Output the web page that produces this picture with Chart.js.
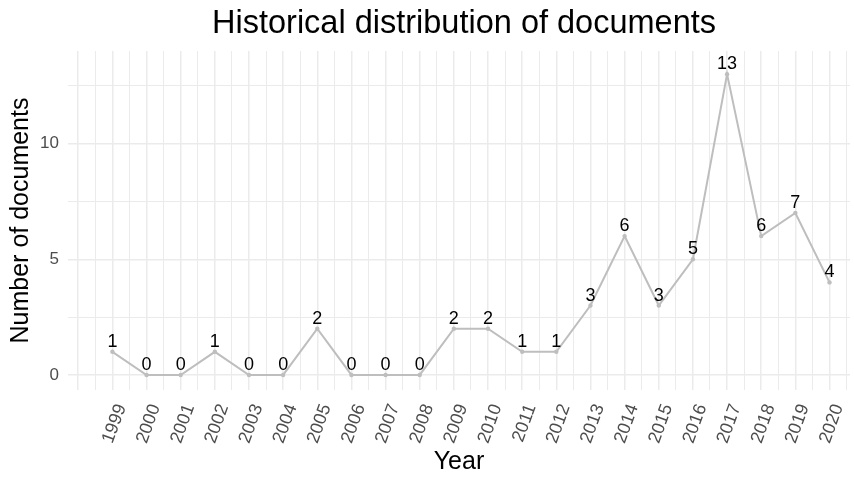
<!DOCTYPE html>
<html>
<head>
<meta charset="utf-8">
<script src="https://cdn.jsdelivr.net/npm/chart.js@4.4.0/dist/chart.umd.min.js"></script>
<style>
  html, body { margin: 0; padding: 0; background: #fff; }
  #wrap { width: 854px; height: 477px; }
</style>
</head>
<body>
<div id="wrap"><canvas id="myChart" width="854" height="477"></canvas></div>
<script>
// data
const years = [1999, 2000, 2001, 2002, 2003, 2004, 2005, 2006, 2007, 2008, 2009,
               2010, 2011, 2012, 2013, 2014, 2015, 2016, 2017, 2018, 2019, 2020];
const documents = [1, 0, 0, 1, 0, 0, 2, 0, 0, 0, 2, 2, 1, 1, 3, 6, 3, 5, 13, 6, 7, 4];
const yTickLabels = [0, 5, 10];
const chartTitle = 'Historical distribution of documents';

const points = years.map((y, i) => ({ x: y, y: documents[i] }));

const lineGrey = '#bebebe';
const gridGrey = '#ebebeb';
const fontName = '"Liberation Sans", Arial, sans-serif';

// draws the count above each point
const valueLabels = {
    id: 'valueLabels',
    afterDatasetsDraw(chart) {
        const ctx = chart.ctx;
        const meta = chart.getDatasetMeta(0);
        ctx.save();
        ctx.font = '18px ' + fontName;
        ctx.fillStyle = '#000';
        ctx.textAlign = 'center';
        ctx.textBaseline = 'alphabetic';
        meta.data.forEach((pt, i) => {
            ctx.fillText(String(documents[i]), pt.x, pt.y - 5);
        });
        ctx.restore();
    }
};

// title centred over the panel (like ggplot) and slanted year labels
const extraText = {
    id: 'extraText',
    afterDraw(chart) {
        const ctx = chart.ctx;
        const area = chart.chartArea;
        const xs = chart.scales.x;
        ctx.save();
        ctx.font = '32.5px ' + fontName;
        ctx.fillStyle = '#000';
        ctx.textAlign = 'center';
        ctx.textBaseline = 'middle';
        ctx.fillText(chartTitle, (area.left + chart.width) / 2 + 3, 24);

        ctx.font = '18px ' + fontName;
        ctx.fillStyle = '#4d4d4d';
        ctx.textAlign = 'right';
        years.forEach(yr => {
            ctx.save();
            ctx.translate(xs.getPixelForValue(yr) + 9, area.bottom + 15);
            ctx.rotate(-70 * Math.PI / 180);
            ctx.fillText(String(yr), 0, 0);
            ctx.restore();
        });
        ctx.restore();
    }
};

const config = {
    type: 'line',
    data: {
        datasets: [{
            label: 'Number of documents',
            data: points,
            borderColor: lineGrey,
            backgroundColor: lineGrey,
            borderWidth: 2,
            pointRadius: 2.2,
            pointBorderWidth: 0,
            tension: 0
        }]
    },
    options: {
        responsive: false,
        animation: false,
        layout: { padding: { top: 51, right: 0, bottom: 0, left: 0 } },
        plugins: {
            legend: { display: false },
            tooltip: { enabled: false },
            title: { display: false }
        },
        scales: {
            x: {
                type: 'linear',
                min: 1997.7,
                max: 2020.6,
                border: { display: false },
                grid: {
                    color: gridGrey,
                    drawTicks: false,
                    lineWidth: c => (c.tick && Number.isInteger(c.tick.value)) ? 1.5 : 1
                },
                afterBuildTicks: scale => {
                    const t = [];
                    for (let v = 1998; v <= 2020.5; v += 0.5) t.push({ value: v });
                    scale.ticks = t;
                },
                afterFit: scale => {
                    scale.height = 87;
                    scale.paddingLeft = 0;
                    scale.paddingRight = 0;
                },
                ticks: { display: false },
                title: {
                    display: true,
                    text: 'Year',
                    color: '#000',
                    font: { family: fontName, size: 25 },
                    padding: { top: 0, bottom: 0 }
                }
            },
            y: {
                min: -0.65,
                max: 14.0,
                border: { display: false },
                grid: {
                    color: gridGrey,
                    drawTicks: false,
                    lineWidth: c => (c.tick && c.tick.value % 5 === 0) ? 1.5 : 1
                },
                afterBuildTicks: scale => {
                    const t = [];
                    for (let v = 0; v <= 12.5; v += 2.5) t.push({ value: v });
                    scale.ticks = t;
                },
                afterFit: scale => {
                    scale.width = 68;
                    scale.paddingTop = 0;
                    scale.paddingBottom = 0;
                },
                ticks: {
                    padding: 9,
                    color: '#4d4d4d',
                    font: { family: fontName, size: 17 },
                    callback: v => yTickLabels.includes(v) ? String(v) : ''
                },
                title: {
                    display: true,
                    text: 'Number of documents',
                    color: '#000',
                    font: { family: fontName, size: 25 },
                    padding: { top: 6, bottom: 0 }
                }
            }
        }
    },
    plugins: [valueLabels, extraText]
};

var myChartJS = new Chart(document.getElementById('myChart'), config);
</script>
</body>
</html>
